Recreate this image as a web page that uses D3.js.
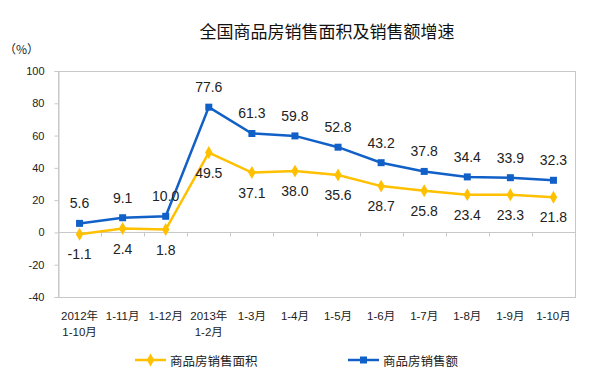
<!DOCTYPE html>
<html>
<head>
<meta charset="utf-8">
<script src="https://cdnjs.cloudflare.com/ajax/libs/d3/7.8.5/d3.min.js"></script>
<style>
  body { margin: 0; background: #fff; }
  svg { display: block; }
</style>
</head>
<body>
<div class="chart__container"></div>
<script>
/*-------------------------------------INIT-------------------------------------*/

const CHART__WIDTH = 600;
const CHART__HEIGHT = 382;

const MARGIN = { top: 71, right: 25, bottom: 85, left: 58 };

const CHART__TITLE = "全国商品房销售面积及销售额增速";
const UNIT__LABEL = "（%）";

// categories (two lines each)
const CATEGORIES = [
    ["2012年", "1-10月"], ["1-11月"], ["1-12月"], ["2013年", "1-2月"],
    ["1-3月"], ["1-4月"], ["1-5月"], ["1-6月"], ["1-7月"], ["1-8月"], ["1-9月"], ["1-10月"]
];

const AREA__NAME = "商品房销售面积";
const AREA__VALUES = [-1.1, 2.4, 1.8, 49.5, 37.1, 38.0, 35.6, 28.7, 25.8, 23.4, 23.3, 21.8];

const AMOUNT__NAME = "商品房销售额";
const AMOUNT__VALUES = [5.6, 9.1, 10.0, 77.6, 61.3, 59.8, 52.8, 43.2, 37.8, 34.4, 33.9, 32.3];

const Y__TICKS = [-40, -20, 0, 20, 40, 60, 80, 100];

const COLOR__AREA = "#FFC000";
const COLOR__AMOUNT = "#1060C8";

const LABEL__FONT = "'Liberation Sans', Arial, 'Noto Sans CJK SC', sans-serif";
const CJK__FONT = "'Noto Sans CJK SC', 'Liberation Sans', sans-serif";

/*-------------------------------------Graph-------------------------------------*/

const SVG = d3.select(".chart__container").append("svg")
    .attr("width", CHART__WIDTH)
    .attr("height", CHART__HEIGHT);

const innerW = CHART__WIDTH - MARGIN.left - MARGIN.right;
const innerH = CHART__HEIGHT - MARGIN.top - MARGIN.bottom;

const xScale = d3.scaleBand()
    .domain(d3.range(CATEGORIES.length))
    .range([MARGIN.left, MARGIN.left + innerW]);

const yScale = d3.scaleLinear()
    .domain([-40, 100])
    .range([MARGIN.top + innerH, MARGIN.top]);

const cx = i => xScale(i) + xScale.bandwidth() / 2;

//Title
SVG.append("text")
    .attr("x", 327)
    .attr("y", 30)
    .attr("text-anchor", "middle")
    .attr("dominant-baseline", "central")
    .attr("font-family", CJK__FONT)
    .attr("font-size", 17)
    .attr("fill", "#111")
    .text(CHART__TITLE);

SVG.append("text")
    .attr("x", 4)
    .attr("y", 48)
    .attr("dominant-baseline", "central")
    .attr("font-family", CJK__FONT)
    .attr("font-size", 12)
    .attr("fill", "#222")
    .text(UNIT__LABEL);

//Plot frame
SVG.append("rect")
    .attr("x", MARGIN.left + 0.5)
    .attr("y", MARGIN.top + 0.5)
    .attr("width", innerW)
    .attr("height", innerH)
    .attr("fill", "none")
    .attr("stroke", "#c8c8c8")
    .attr("stroke-width", 1);

//Y axis
const yAxis = d3.axisLeft(yScale)
    .tickValues(Y__TICKS)
    .tickFormat(d => String(d))
    .tickSize(4)
    .tickPadding(10);
const gY = SVG.append("g")
    .attr("transform", `translate(${MARGIN.left + 0.5},0)`)
    .call(yAxis);
gY.select(".domain").attr("stroke", "#c8c8c8");
gY.selectAll(".tick line").attr("stroke", "#c8c8c8");
gY.selectAll(".tick text")
    .attr("font-family", LABEL__FONT)
    .attr("font-size", 11)
    .attr("fill", "#222");

//Zero line with category ticks
const zeroY = Math.round(yScale(0)) + 0.5;
SVG.append("line")
    .attr("x1", MARGIN.left).attr("x2", MARGIN.left + innerW)
    .attr("y1", zeroY).attr("y2", zeroY)
    .attr("stroke", "#c8c8c8");

SVG.append("g").selectAll("line")
    .data(d3.range(1, CATEGORIES.length))
    .join("line")
    .attr("x1", i => Math.round(xScale(i)) + 0.5)
    .attr("x2", i => Math.round(xScale(i)) + 0.5)
    .attr("y1", zeroY)
    .attr("y2", zeroY + 4)
    .attr("stroke", "#c8c8c8");

//X category labels
const xLabels = SVG.append("g").selectAll("text")
    .data(CATEGORIES)
    .join("text")
    .attr("x", (d, i) => cx(i))
    .attr("y", 316)
    .attr("text-anchor", "middle")
    .attr("font-family", LABEL__FONT)
    .attr("font-size", 11.5)
    .attr("fill", "#222");

xLabels.selectAll("tspan")
    .data((d, i) => d.map(t => ({ t, i })))
    .join("tspan")
    .attr("x", d => cx(d.i))
    .attr("dy", (d, j) => j === 0 ? "0.35em" : 16)
    .text(d => d.t);

//Lines
const lineGen = d3.line().x((d, i) => cx(i)).y(d => yScale(d));

SVG.append("path")
    .datum(AREA__VALUES)
    .attr("d", lineGen)
    .attr("fill", "none")
    .attr("stroke", COLOR__AREA)
    .attr("stroke-width", 2.5);

SVG.append("path")
    .datum(AMOUNT__VALUES)
    .attr("d", lineGen)
    .attr("fill", "none")
    .attr("stroke", COLOR__AMOUNT)
    .attr("stroke-width", 2.5);

//Markers
const diamond = d3.symbol().type(d3.symbolDiamond).size(48);
const square = d3.symbol().type(d3.symbolSquare).size(49);

SVG.append("g").selectAll("path")
    .data(AREA__VALUES)
    .join("path")
    .attr("d", diamond)
    .attr("transform", (d, i) => `translate(${cx(i)},${yScale(d)})`)
    .attr("fill", COLOR__AREA);

SVG.append("g").selectAll("path")
    .data(AMOUNT__VALUES)
    .join("path")
    .attr("d", square)
    .attr("transform", (d, i) => `translate(${cx(i)},${yScale(d)})`)
    .attr("fill", COLOR__AMOUNT);

//Value labels
SVG.append("g").selectAll("text")
    .data(AMOUNT__VALUES)
    .join("text")
    .attr("x", (d, i) => cx(i))
    .attr("y", d => yScale(d) - 20)
    .attr("text-anchor", "middle")
    .attr("dominant-baseline", "central")
    .attr("font-family", LABEL__FONT)
    .attr("font-size", 14)
    .attr("fill", "#222")
    .text(d => d.toFixed(1));

SVG.append("g").selectAll("text")
    .data(AREA__VALUES)
    .join("text")
    .attr("x", (d, i) => cx(i))
    .attr("y", d => yScale(d) + 20)
    .attr("text-anchor", "middle")
    .attr("dominant-baseline", "central")
    .attr("font-family", LABEL__FONT)
    .attr("font-size", 14)
    .attr("fill", "#222")
    .text(d => d.toFixed(1));

//Legend
const legendItems = [
    { name: AREA__NAME, color: COLOR__AREA, sym: diamond, x: 135 },
    { name: AMOUNT__NAME, color: COLOR__AMOUNT, sym: square, x: 348 }
];

const legend = SVG.append("g").selectAll("g")
    .data(legendItems)
    .join("g")
    .attr("transform", d => `translate(${d.x},360)`);

legend.append("line")
    .attr("x1", 0).attr("x2", 31)
    .attr("stroke", d => d.color)
    .attr("stroke-width", 2.5);

legend.append("path")
    .attr("d", d => d.sym())
    .attr("transform", "translate(15.5,0)")
    .attr("fill", d => d.color);

legend.append("text")
    .attr("x", 35)
    .attr("dominant-baseline", "central")
    .attr("font-family", CJK__FONT)
    .attr("font-size", 12.5)
    .attr("fill", "#222")
    .text(d => d.name);
</script>
</body>
</html>
